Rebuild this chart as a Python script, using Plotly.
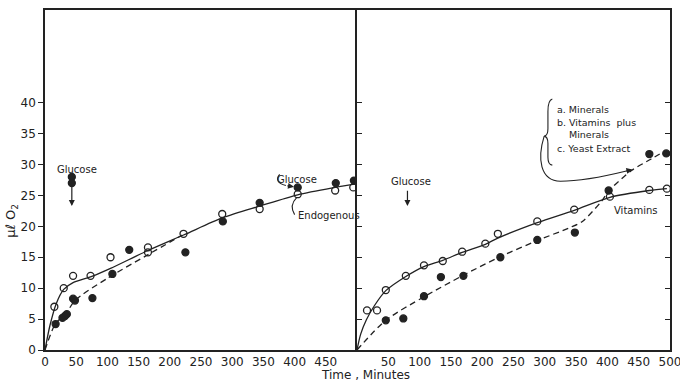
import plotly.graph_objects as go

# ---------------- data ----------------
# Left panel
L_open_x = [15, 30, 45, 73, 105, 165, 165, 222, 284, 344, 405, 465, 494]
L_open_y = [7.0, 10.0, 12.0, 12.0, 15.0, 16.6, 15.8, 18.8, 22.0, 22.8, 25.2, 25.8, 26.3]
L_fill_x = [17, 28, 32, 35, 45, 48, 76, 108, 135, 225, 285, 344, 405, 466, 495]
L_fill_y = [4.2, 5.2, 5.5, 5.8, 8.3, 8.0, 8.4, 12.3, 16.2, 15.8, 20.8, 23.8, 26.3, 27.0, 27.4]
L_gluc_x = [43, 43]
L_gluc_y = [28.0, 27.0]
# fitted curves
L_solid_x = [0, 8, 18, 30, 45, 75, 105, 165, 222, 285, 345, 405, 465, 500]
L_solid_y = [0, 4.0, 7.5, 9.8, 10.9, 11.9, 13.2, 16.1, 18.6, 21.4, 23.3, 25.1, 26.3, 26.9]
L_dash_x = [0, 17, 33, 48, 100, 163, 220]
L_dash_y = [0, 4.3, 5.8, 8.0, 11.6, 15.3, 18.6]

# Right panel
R_open_x = [16, 32, 46, 78, 107, 137, 168, 205, 225, 288, 347, 404, 467, 495]
R_open_y = [6.4, 6.4, 9.7, 12.0, 13.7, 14.4, 15.9, 17.2, 18.8, 20.8, 22.7, 24.8, 25.9, 26.1]
R_fill_x = [46, 74, 107, 134, 170, 229, 288, 348, 402, 467, 494]
R_fill_y = [4.8, 5.1, 8.7, 11.8, 12.0, 15.0, 17.8, 19.0, 25.8, 31.7, 31.8]
R_solid_x = [0, 6, 15, 28, 46, 78, 107, 137, 168, 205, 225, 288, 347, 404, 467, 495]
R_solid_y = [0, 2.6, 4.9, 7.2, 9.6, 11.9, 13.5, 14.5, 15.8, 17.1, 18.1, 20.6, 22.6, 24.7, 25.8, 26.1]
R_dash_x = [0, 46, 107, 170, 229, 288, 340, 360, 390, 402, 438, 470, 490]
R_dash_y = [0, 4.8, 8.6, 12.1, 15.1, 17.7, 19.8, 20.8, 24.0, 25.7, 29.0, 30.9, 32.1]

L_xticks = [0, 50, 100, 150, 200, 250, 300, 350, 400, 450]
R_xticks = [50, 100, 150, 200, 250, 300, 350, 400, 450, 500]
top_ticks = [50, 100, 150, 200, 250, 300, 350, 400, 450]
y_ticks = [0, 5, 10, 15, 20, 25, 30, 35, 40]
y_inner = [5, 10, 15, 20, 25, 30, 35, 40]

INK = "#222"
FONT = "DejaVu Sans"

fig = go.Figure()

def curve(x, y, xa, ya, dash):
    fig.add_trace(go.Scatter(x=x, y=y, xaxis=xa, yaxis=ya, mode="lines",
                             line=dict(color=INK, width=1.3, dash=dash, shape="spline", smoothing=0.8),
                             hoverinfo="skip", showlegend=False))

def pts(x, y, xa, ya, filled):
    fig.add_trace(go.Scatter(x=x, y=y, xaxis=xa, yaxis=ya, mode="markers",
                             marker=dict(size=7, symbol="circle" if filled else "circle-open",
                                         color=INK, line=dict(color=INK, width=1.3)),
                             showlegend=False))

curve(L_solid_x, L_solid_y, "x", "y", "solid")
curve(L_dash_x, L_dash_y, "x", "y", "6px,4px")
curve(R_solid_x, R_solid_y, "x2", "y2", "solid")
curve(R_dash_x, R_dash_y, "x2", "y2", "6px,4px")
pts(L_open_x, L_open_y, "x", "y", False)
pts(L_fill_x, L_fill_y, "x", "y", True)
pts(L_gluc_x, L_gluc_y, "x", "y", True)
pts(R_open_x, R_open_y, "x2", "y2", False)
pts(R_fill_x, R_fill_y, "x2", "y2", True)

split = 312 / 625
ax_common = dict(range=[0, 500], showgrid=False, zeroline=False, showline=True, automargin=False,
                 ticklabeloverflow="allow",
                 linecolor=INK, linewidth=1.5, tickfont=dict(family=FONT, size=12, color=INK))
yax_common = dict(range=[0, 55], showgrid=False, zeroline=False, showline=True, automargin=False,
                  linecolor=INK, linewidth=1.5, tickcolor=INK, tickwidth=1.3, ticklen=5)

fig.update_layout(
    width=680, height=382, margin=dict(l=45, r=10, t=10, b=32, autoexpand=False),
    paper_bgcolor="white", plot_bgcolor="white",
    xaxis=dict(**ax_common, domain=[0, split], anchor="y", tickvals=L_xticks, ticks="", mirror=True),
    xaxis2=dict(**ax_common, domain=[split, 1], anchor="y2", tickvals=R_xticks, ticks="", mirror=True),
    xaxis3=dict(range=[0, 500], overlaying="x", side="top", anchor="y", tickvals=top_ticks,
                ticks="inside", ticklen=5, tickcolor=INK, tickwidth=1.3, showticklabels=False,
                showgrid=False, zeroline=False, showline=False, automargin=False),
    xaxis4=dict(range=[0, 500], overlaying="x2", side="top", anchor="y2", tickvals=top_ticks,
                ticks="inside", ticklen=5, tickcolor=INK, tickwidth=1.3, showticklabels=False,
                showgrid=False, zeroline=False, showline=False, automargin=False),
    yaxis=dict(**yax_common, domain=[0, 1], anchor="x", side="left", ticks="outside",
               tickvals=y_ticks, tickfont=dict(family=FONT, size=12, color=INK)),
    yaxis3=dict(**yax_common, overlaying="y", anchor="x", side="right", ticks="inside",
                tickvals=y_inner, showticklabels=False),
    yaxis2=dict(**yax_common, domain=[0, 1], anchor="x2", side="left", ticks="inside",
                tickvals=y_inner, showticklabels=False, mirror="ticks"),
)

def txt(x, y, s, xref, yref, anchor="center", size=10):
    fig.add_annotation(x=x, y=y, xref=xref, yref=yref, text=s, showarrow=False,
                       xanchor=anchor, yanchor="middle",
                       font=dict(family=FONT, size=size, color=INK))

def arrow(x, y, ax, ay, xref, yref, head=2):
    fig.add_annotation(x=x, y=y, ax=ax, ay=ay, xref=xref, yref=yref, axref=xref, ayref=yref,
                       text="", showarrow=True, arrowhead=head, arrowsize=1, arrowwidth=1.2,
                       arrowcolor=INK)

# Left panel annotations
txt(52, 29.2, "Glucose", "x", "y")
arrow(43, 23.3, 43, 26.6, "x", "y")
txt(404, 27.6, "Glucose", "x", "y")
fig.add_shape(type="path", xref="x", yref="y", path="M 376,28.4 Q 366,27.2 386,26.6",
              line=dict(color=INK, width=1.1))
arrow(399, 26.4, 386, 26.6, "x", "y")
fig.add_shape(type="path", xref="x", yref="y", path="M 403,24.6 Q 391,23.4 400,21.9",
              line=dict(color=INK, width=1.1))
txt(403, 21.8, "Endogenous", "x", "y", anchor="left")

# Right panel annotations
txt(87, 27.3, "Glucose", "x2", "y2")
arrow(80.6, 23.3, 80.6, 26.0, "x2", "y2")
txt(317, 38.9, "a. Minerals", "x2", "y2", anchor="left", size=9.5)
txt(317, 36.8, "b. Vitamins  plus", "x2", "y2", anchor="left", size=9.5)
txt(336, 34.8, "Minerals", "x2", "y2", anchor="left", size=9.5)
txt(317, 32.6, "c. Yeast Extract", "x2", "y2", anchor="left", size=9.5)
fig.add_shape(type="path", xref="x2", yref="y2",
              path="M 312,40.6 Q 305,40.4 305,38.6 L 305,35.8 Q 305,34.7 299,34.6 "
                   "Q 305,34.5 305,33.4 L 305,31.2 Q 305,30.0 312,29.9",
              line=dict(color=INK, width=1.1))
fig.add_shape(type="path", xref="x2", yref="y2",
              path="M 299,34.6 C 288,31 292,27.4 325,27.3 C 360,27.3 400,28.2 432,29.0",
              line=dict(color=INK, width=1.1))
arrow(440, 29.2, 428, 28.9, "x2", "y2")
txt(407, 22.6, "Vitamins", "x2", "y2", anchor="left")

# Axis titles
txt(0.512, -0.074, "Time , Minutes", "paper", "paper", size=12)
fig.add_annotation(x=-0.053, y=0.38, xref="paper", yref="paper", text="μℓ O<sub>2</sub>",
                   xanchor="center", yanchor="middle",
                   showarrow=False, textangle=-90, font=dict(family=FONT, size=13, color=INK))

fig.write_html("out.html", config={"displayModeBar": False},
               post_script="document.body.style.margin='0';")
